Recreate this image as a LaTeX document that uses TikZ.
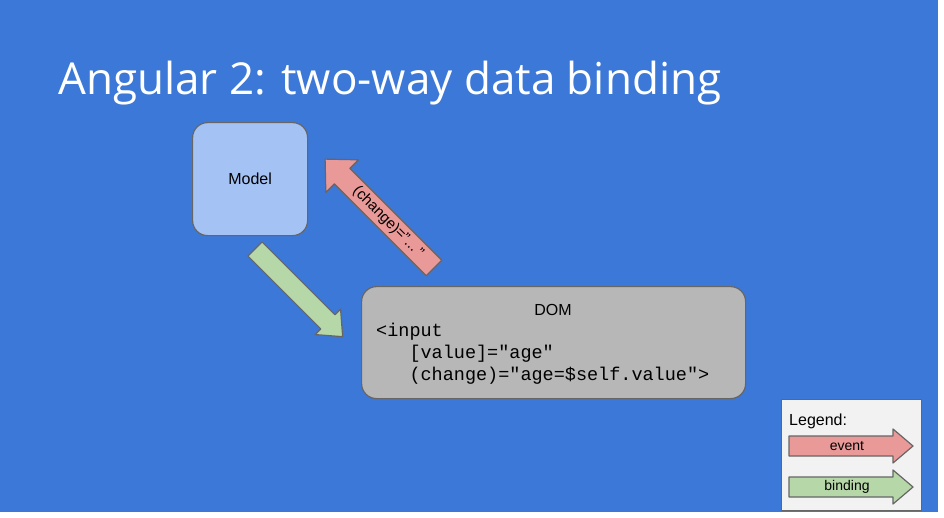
\documentclass[tikz,border=0pt]{standalone}
\usepackage{fontspec}
\setmainfont{Liberation Sans}
\setmonofont{Liberation Mono}
\newfontfamily\titlefont{Open Sans}
\definecolor{bg}{HTML}{3C78D8}
\definecolor{modelc}{HTML}{A4C2F4}
\definecolor{domc}{HTML}{B7B7B7}
\definecolor{redc}{HTML}{EA9999}
\definecolor{greenc}{HTML}{B6D7A8}
\definecolor{edge}{HTML}{666666}
\newcommand{\fatarrow}[8]{% x y angle length shaftw headw headlen fill
  \begin{scope}[shift={(#1,-#2)},rotate=#3]
  \draw[edge,fill=#8,line width=1.2pt,line join=round] (0,-#5)--(#4-#7,-#5)--(#4-#7,-#6)--(#4,0)--(#4-#7,#6)--(#4-#7,#5)--(0,#5)--cycle;
  \end{scope}}
\begin{document}
\begin{tikzpicture}[x=1pt,y=1pt,
  box/.style={draw=edge,line width=1.2pt,rounded corners=15pt,anchor=north west,inner sep=0pt}]
\fill[white] (0,0) rectangle (944,-517);
\fill[bg] (0,0) rectangle (938,-512);
\useasboundingbox (0,0) rectangle (944,-517);
\node[anchor=base west,inner sep=0pt,text=white,font=\titlefont\fontsize{44}{50}\selectfont] (title) at (58,-94) {Angular 2: two-way data binding};
\node[box,fill=modelc,minimum width=115pt,minimum height=113pt] (model) at (192,-122) {};
\node[font=\fontsize{16}{18}\selectfont] at (model.center) {Model};
\node[box,fill=domc,minimum width=384pt,minimum height=112pt] (dom) at (361,-286) {};
\node[font=\fontsize{16}{18}\selectfont] (domt) at (553,-310) {DOM};
\node[anchor=north west,align=left,inner sep=0pt,font=\ttfamily\fontsize{18.5}{22}\selectfont] (code) at (376,-323) {<input\\\ \ \ [value]="age"\\\ \ \ (change)="age=\$self.value">};
\fatarrow{434}{268}{135}{154}{11}{23}{24}{redc}
\node[rotate=-45,font=\fontsize{15}{16}\selectfont] (lab) at (388,-222) {(change)="...\,"};
\fatarrow{255}{249}{-45}{124}{10}{18}{21}{greenc}
\node[draw=edge,line width=1.2pt,fill=white!95!black,anchor=north west,minimum width=140pt,minimum height=111pt,inner sep=0pt] (leg) at (781,-399) {};
\node[anchor=base west,inner sep=0pt,font=\fontsize{16}{18}\selectfont] (legt) at (789,-425) {Legend:};
\fatarrow{789}{446}{0}{124}{10}{17}{20}{redc}
\node[font=\fontsize{14}{16}\selectfont] (ev) at (847,-446) {event};
\fatarrow{789}{487}{0}{124}{10}{17}{20}{greenc}
\node[font=\fontsize{14}{16}\selectfont] (bi) at (847,-487) {binding};
\end{tikzpicture}
\end{document}
